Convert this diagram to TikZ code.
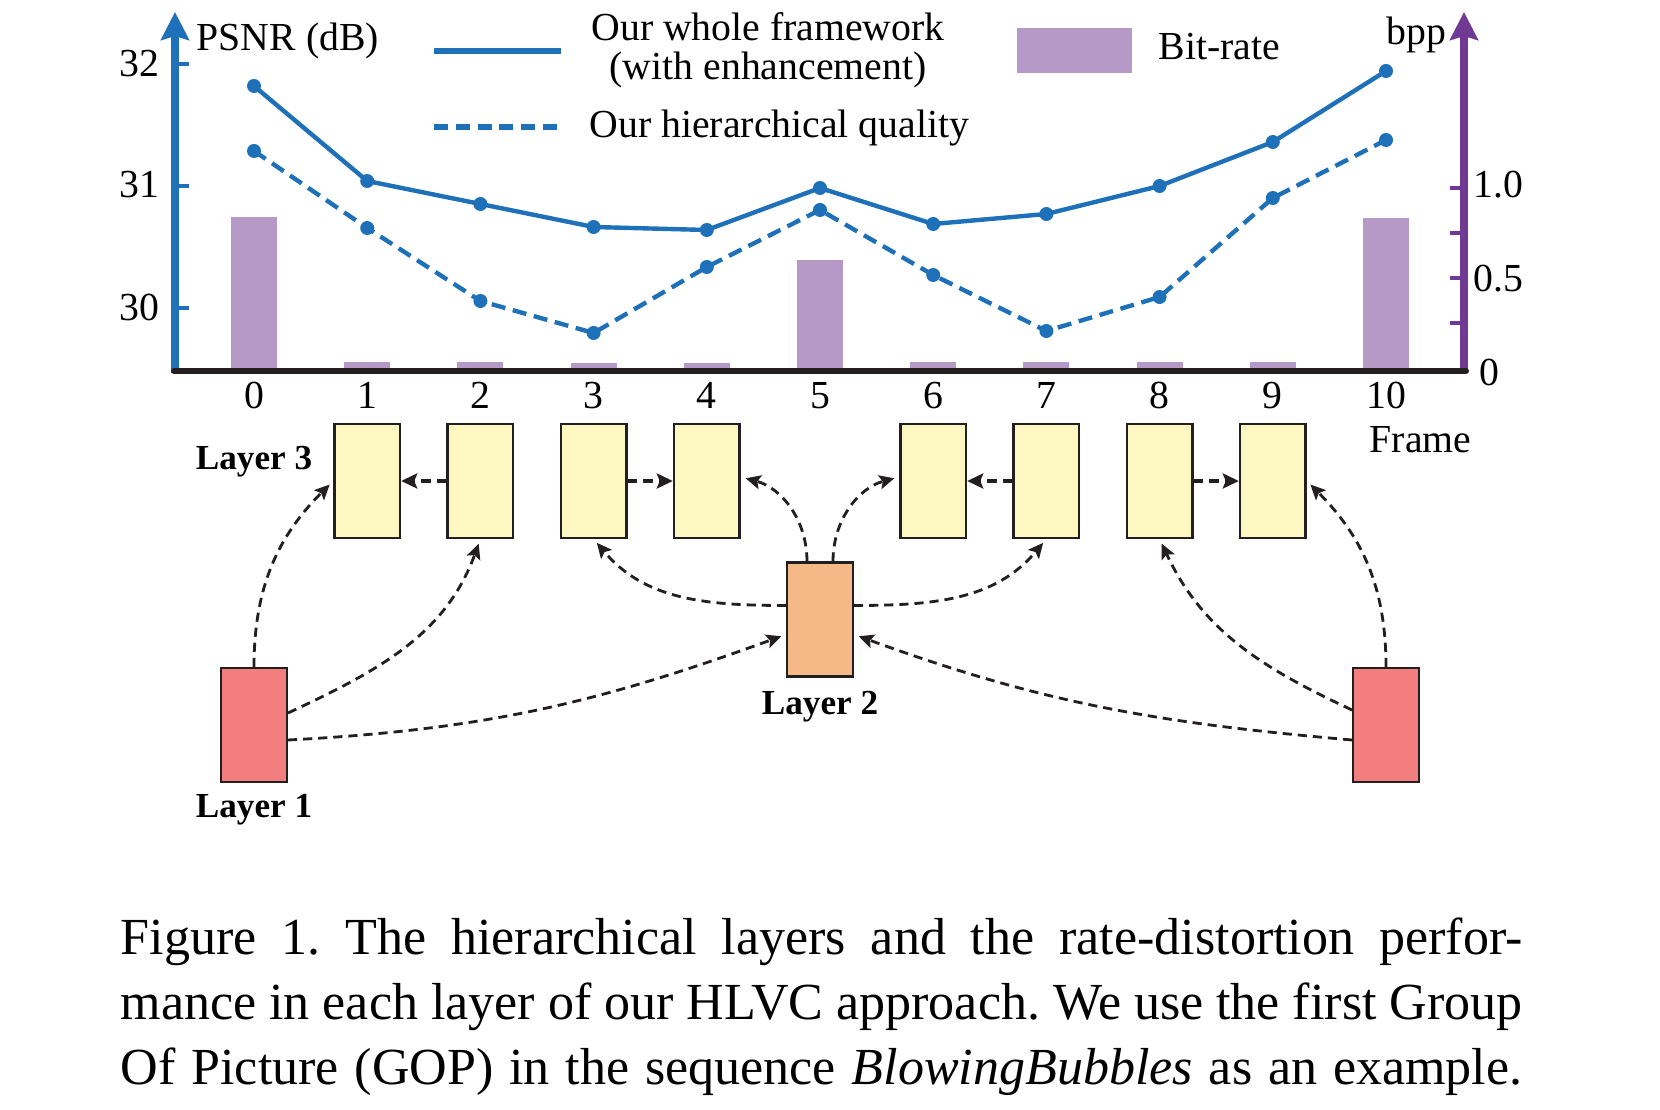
\documentclass[tikz,border=0pt]{standalone}
\usepackage{fontspec}
\setmainfont{Liberation Serif}
\usetikzlibrary{arrows.meta}
\definecolor{plotblue}{RGB}{30,113,184}
\definecolor{barpurple}{RGB}{183,153,199}
\definecolor{axispurple}{RGB}{112,58,148}
\definecolor{axisblack}{RGB}{35,31,32}
\definecolor{lthree}{RGB}{253,247,193}
\definecolor{ltwo}{RGB}{244,185,135}
\definecolor{lone}{RGB}{242,126,126}
\begin{document}
\begin{tikzpicture}[x=0.01cm,y=0.01cm,
  txt/.style={inner sep=0pt, font=\fontsize{11.3pt}{13pt}\selectfont},
  lay/.style={inner sep=0pt, font=\fontsize{10pt}{12pt}\selectfont\bfseries},
  captxt/.style={anchor=base west, inner sep=0pt, font=\fontsize{14.8pt}{18pt}\selectfont\frenchspacing},
  frbox/.style={draw=axisblack, line width=0.7pt, minimum width=0.655cm, minimum height=1.135cm, inner sep=0pt},
  refarrow/.style={draw=axisblack, line width=0.8pt, dash pattern=on 2.6pt off 1.7pt, -{Stealth[length=1.5mm,width=1.4mm,inset=0.3mm]}, shorten >=0.5mm},
  neararrow/.style={draw=axisblack, line width=1.1pt, dash pattern=on 2.8pt off 1.6pt, -{Stealth[length=1.6mm,width=1.5mm,inset=0.3mm]}},
  axistip/.style={-{Stealth[length=2.8mm,width=2.8mm,inset=0.4mm]}}
]
\path[use as bounding box] (0,0) rectangle (1660,-1110);

% bars
\foreach \i/\t in {0/217,1/362,2/362,3/363,4/363,5/260,6/362,7/362,8/362,9/362,10/218}
  \fill[barpurple] ({254+113.2*\i-23},-371) rectangle ({254+113.2*\i+23},-\t);

% axes
\draw[plotblue, line width=2pt, axistip] (175,-373) -- (175,-12);
\foreach \y in {64,186,308} \draw[plotblue, line width=1.1pt] (175,-\y) -- (189,-\y);
\draw[axispurple, line width=2pt, axistip] (1464,-373) -- (1464,-12);
\foreach \y in {188,233,278,323} \draw[axispurple, line width=1.1pt] (1450,-\y) -- (1464,-\y);
\draw[axisblack, line width=1.7pt, line cap=round] (174,-371) -- (1466,-371);

% plot lines
\draw[plotblue, line width=1.25pt, line join=round] (254,-86) -- (367.2,-181) -- (480.4,-204) -- (593.6,-227) -- (706.8,-230) -- (820,-188) -- (933.2,-224) -- (1046.4,-214) -- (1159.6,-186) -- (1272.8,-142) -- (1386,-71);
\draw[plotblue, line width=1.25pt, dash pattern=on 4pt off 2.2pt] (254,-151) -- (367.2,-228) -- (480.4,-301) -- (593.6,-333) -- (706.8,-267) -- (820,-210) -- (933.2,-275) -- (1046.4,-331) -- (1159.6,-297) -- (1272.8,-198) -- (1386,-140);
\foreach \i/\s/\d in {0/86/151,1/181/228,2/204/301,3/227/333,4/230/267,5/188/210,6/224/275,7/214/331,8/186/297,9/142/198,10/71/140}{
  \fill[plotblue] ({254+113.2*\i},-\s) circle (7);
  \fill[plotblue] ({254+113.2*\i},-\d) circle (7);
}

% legend
\draw[plotblue, line width=1.5pt] (434,-51) -- (561,-51);
\draw[plotblue, line width=1.5pt, dash pattern=on 4pt off 2.2pt] (434,-127) -- (561,-127);
\node[txt, anchor=base] (lg1) at (768,-41) {Our whole framework};
\node[txt, anchor=base] (lg2) at (768,-80) {(with enhancement)};
\node[txt, anchor=base west] (lg3) at (589,-138) {Our hierarchical quality};
\fill[barpurple] (1017,-28) rectangle (1132,-73);
\node[txt, anchor=base west] (lg4) at (1158,-60) {Bit-rate};

% axis labels
\node[txt, anchor=base west] (psnr) at (196,-51) {PSNR (dB)};
\node[txt, anchor=base west] (bpp) at (1386,-45) {bpp};
\node[txt, anchor=base east] (t32) at (160,-77) {32};
\node[txt, anchor=base east] (t31) at (160,-198) {31};
\node[txt, anchor=base east] (t30) at (160,-321) {30};
\node[txt, anchor=base west] (b10) at (1473,-198) {1.0};
\node[txt, anchor=base west] (b05) at (1473,-292) {0.5};
\node[txt, anchor=base west] (b00) at (1479,-386) {0};
\foreach \i in {0,...,10}
  \node[txt, anchor=base] (n\i) at ({254+113.2*\i},-409) {\i};
\node[txt, anchor=base west] (frame) at (1369,-453) {Frame};

% frame boxes
\node[frbox, fill=lthree] (f1) at (367.2,-481) {};
\node[frbox, fill=lthree] (f2) at (480.4,-481) {};
\node[frbox, fill=lthree] (f3) at (593.6,-481) {};
\node[frbox, fill=lthree] (f4) at (706.8,-481) {};
\node[frbox, fill=lthree] (f6) at (933.2,-481) {};
\node[frbox, fill=lthree] (f7) at (1046.4,-481) {};
\node[frbox, fill=lthree] (f8) at (1159.6,-481) {};
\node[frbox, fill=lthree] (f9) at (1272.8,-481) {};
\node[frbox, fill=ltwo] (f5) at (820,-619.5) {};
\node[frbox, fill=lone] (f0) at (254,-725) {};
\node[frbox, fill=lone] (f10) at (1386,-725) {};

\node[lay, anchor=base] (lay3) at (254,-470) {Layer 3};
\node[lay, anchor=base] (lay2) at (820,-715) {Layer 2};
\node[lay, anchor=base] (lay1) at (254,-818) {Layer 1};

% reference arrows
\draw[refarrow] (f0.north) to[out=90,in=225] (f1.west);
\draw[refarrow] ([yshift=0.12cm]f0.east) to[out=25,in=250] (f2.south);
\draw[refarrow] ([yshift=-0.15cm]f0.east) to[out=3,in=200] ([yshift=-0.15cm]f5.west);
\draw[refarrow] (f10.north) to[out=90,in=-45] (f9.east);
\draw[refarrow] ([yshift=0.15cm]f10.west) to[out=155,in=-65] (f8.south);
\draw[refarrow] ([yshift=-0.15cm]f10.west) to[out=175,in=-20] ([yshift=-0.15cm]f5.east);
\draw[refarrow] ([yshift=0.14cm]f5.west) to[out=180,in=-50] (f3.south);
\draw[refarrow] ([yshift=0.14cm]f5.east) to[out=0,in=230] (f7.south);
\draw[refarrow] ([xshift=-0.13cm]f5.north) to[out=90,in=-15] ([yshift=0.04cm]f4.east);
\draw[refarrow] ([xshift=0.13cm]f5.north) to[out=90,in=195] ([yshift=0.04cm]f6.west);

\draw[neararrow] (f2.west) -- (f1.east);
\draw[neararrow] (f3.east) -- (f4.west);
\draw[neararrow] (f7.west) -- (f6.east);
\draw[neararrow] (f8.east) -- (f9.west);

% caption
\node[captxt] (cap1) at (120,-955) {\makebox[14.01cm][s]{Figure 1. The hierarchical layers and the rate-distortion perfor-}};
\node[captxt] (cap2) at (120,-1019) {\makebox[14.01cm][s]{mance in each layer of our HLVC approach. We use the first Group}};
\node[captxt] (cap3) at (120,-1084) {\makebox[14.01cm][s]{Of Picture (GOP) in the sequence \textit{BlowingBubbles} as an example.}};
\end{tikzpicture}
\end{document}
